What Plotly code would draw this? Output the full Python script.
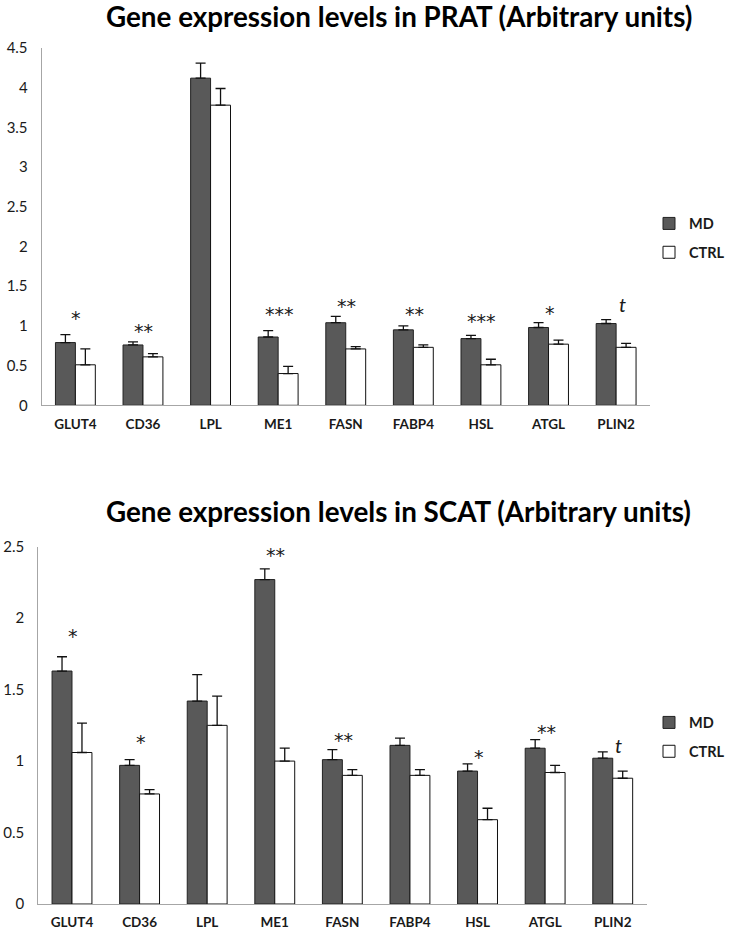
import plotly.graph_objects as go

genes = ["GLUT4", "CD36", "LPL", "ME1", "FASN", "FABP4", "HSL", "ATGL", "PLIN2"]

prat_md = [0.79, 0.76, 4.12, 0.86, 1.04, 0.95, 0.84, 0.98, 1.03]
prat_md_err = [0.10, 0.04, 0.19, 0.08, 0.08, 0.05, 0.04, 0.06, 0.05]
prat_ctrl = [0.51, 0.61, 3.78, 0.40, 0.71, 0.73, 0.51, 0.77, 0.73]
prat_ctrl_err = [0.20, 0.04, 0.21, 0.09, 0.03, 0.03, 0.07, 0.05, 0.05]
prat_sig = ["*", "**", "", "***", "**", "**", "***", "*", "t"]
prat_sig_y = [1.16, 1.00, None, 1.21, 1.31, 1.21, 1.13, 1.22, 1.27]

scat_md = [1.63, 0.97, 1.42, 2.27, 1.01, 1.11, 0.93, 1.09, 1.02]
scat_md_err = [0.10, 0.04, 0.185, 0.075, 0.07, 0.05, 0.05, 0.06, 0.045]
scat_ctrl = [1.06, 0.77, 1.25, 1.00, 0.90, 0.90, 0.59, 0.92, 0.88]
scat_ctrl_err = [0.205, 0.03, 0.205, 0.09, 0.04, 0.04, 0.08, 0.05, 0.05]
scat_sig = ["*", "*", "", "**", "**", "", "*", "**", "t"]
scat_sig_y = [1.91, 1.17, None, 2.48, 1.18, None, 1.065, 1.24, 1.11]

prat_ticks = [0, 0.5, 1, 1.5, 2, 2.5, 3, 3.5, 4, 4.5]
scat_ticks = [0, 0.5, 1, 1.5, 2, 2.5]

FONT = "Lato"
STAR_FONT = "DejaVu Sans"
MD_COLOR = "#595959"
MD_LINE = "#222222"
AXIS_COLOR = "#a6a6a6"
TEXT = "#1a1a1a"

W, H = 730, 933


def px_x(a, b):
    return [a / W, b / W]


def px_y(top, bottom):
    return [1 - bottom / H, 1 - top / H]


fig = go.Figure()


def add_pair(xa, ya, md, md_err, ctrl, ctrl_err, legend):
    fig.add_trace(go.Bar(
        x=genes, y=md, name="MD", xaxis=xa, yaxis=ya, legend=legend,
        legendgroup=legend + "md",
        marker=dict(color=MD_COLOR, line=dict(color=MD_LINE, width=1)),
        error_y=dict(type="data", array=md_err, arrayminus=[0] * len(md_err),
                     symmetric=False, color="#111111", thickness=1.3, width=5),
    ))
    fig.add_trace(go.Bar(
        x=genes, y=ctrl, name="CTRL", xaxis=xa, yaxis=ya, legend=legend,
        legendgroup=legend + "ctrl",
        marker=dict(color="#ffffff", line=dict(color="#111111", width=1)),
        error_y=dict(type="data", array=ctrl_err, arrayminus=[0] * len(ctrl_err),
                     symmetric=False, color="#111111", thickness=1.3, width=5),
    ))


add_pair("x", "y", prat_md, prat_md_err, prat_ctrl, prat_ctrl_err, "legend")
add_pair("x2", "y2", scat_md, scat_md_err, scat_ctrl, scat_ctrl_err, "legend2")

annotations = []
for xa, ya, sigs, ys in [("x", "y", prat_sig, prat_sig_y), ("x2", "y2", scat_sig, scat_sig_y)]:
    for g, s, yy in zip(genes, sigs, ys):
        if not s:
            continue
        if s == "t":
            annotations.append(dict(
                x=g, y=yy, xref=xa, yref=ya, text="<i>t</i>", showarrow=False,
                yanchor="middle", xshift=6,
                font=dict(family=FONT, size=20, color=TEXT),
            ))
        else:
            annotations.append(dict(
                x=g, y=yy, xref=xa, yref=ya, text=s, showarrow=False,
                yanchor="middle", yshift=-5, xshift=1,
                font=dict(family=STAR_FONT, size=19, color=TEXT),
            ))

annotations.append(dict(
    x=400 / W, y=1 - 16 / H, xref="paper", yref="paper", showarrow=False,
    text="<b>Gene expression levels in PRAT (Arbitrary units)</b>",
    font=dict(family=FONT, size=27.8, color="#000000"), yanchor="middle",
))
annotations.append(dict(
    x=400 / W, y=1 - 511 / H, xref="paper", yref="paper", showarrow=False,
    text="<b>Gene expression levels in SCAT (Arbitrary units)</b>",
    font=dict(family=FONT, size=27.8, color="#000000"), yanchor="middle",
))

xaxis_common = dict(
    showline=True, linecolor=AXIS_COLOR, linewidth=1, ticks="", showgrid=False,
    zeroline=False, automargin=False, ticklabelstandoff=6,
    tickfont=dict(family=FONT, size=13.5, color=TEXT, weight="bold"),
)
yaxis_common = dict(
    showline=True, linecolor=AXIS_COLOR, linewidth=1, ticks="", showgrid=False,
    zeroline=False, automargin=False, ticklabelstandoff=10,
    tickfont=dict(family=FONT, size=15, color=TEXT),
)

legend_common = dict(
    font=dict(family=FONT, size=14.5, color=TEXT, weight="bold"),
    bgcolor="rgba(0,0,0,0)", traceorder="grouped", tracegroupgap=7,
    xanchor="left", yanchor="middle", itemwidth=30,
)

fig.update_layout(
    width=W, height=H,
    margin=dict(l=0, r=0, t=0, b=0),
    paper_bgcolor="#ffffff", plot_bgcolor="#ffffff",
    barmode="group", bargap=0.41, bargroupgap=0,
    showlegend=True,
    xaxis=dict(domain=px_x(41.7, 651.7), anchor="y", **xaxis_common),
    yaxis=dict(domain=px_y(48, 405.3), anchor="x", range=[0, 4.5],
               tickvals=prat_ticks, **yaxis_common),
    xaxis2=dict(domain=px_x(38.3, 648.3), anchor="y2", **xaxis_common),
    yaxis2=dict(domain=px_y(546.7, 904), anchor="x2", range=[0, 2.5],
                tickvals=scat_ticks, **yaxis_common),
    legend=dict(x=651 / W, y=1 - 238 / H, **legend_common),
    legend2=dict(x=651 / W, y=1 - 737 / H, **legend_common),
    annotations=annotations,
)

fig.write_html(
    "out.html",
    config={"displayModeBar": False},
    post_script="document.body.style.margin='0';document.body.style.overflow='hidden';",
)
